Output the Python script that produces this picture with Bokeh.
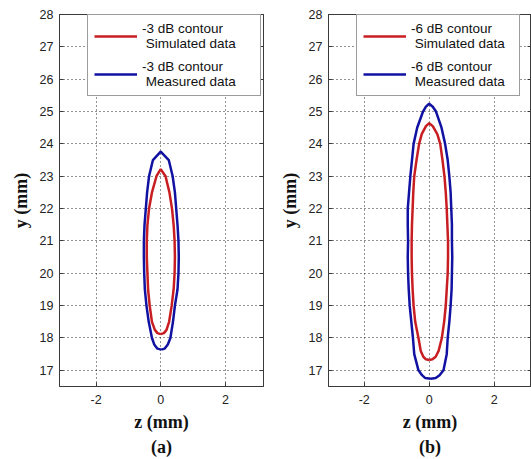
from bokeh.plotting import figure
from bokeh.layouts import row
from bokeh.models import Legend, LegendItem, LinearAxis, Title, Range1d, FixedTicker
from bokeh.embed import file_html
from bokeh.resources import INLINE

# ---------------- data ----------------
x_ticks = [-2, 0, 2]
x_tick_labels = ["-2", "0", "2"]
y_ticks = [17, 18, 19, 20, 21, 22, 23, 24, 25, 26, 27, 28]
y_tick_labels = ["17", "18", "19", "20", "21", "22", "23", "24", "25", "26", "27", "28"]

# (a) -3 dB contour, simulated (red)
a_sim_y = [18.12, 18.15, 18.25, 18.5, 19.0, 19.5, 20.0, 20.5, 21.0, 21.5, 22.0, 22.5, 23.0, 23.22]
a_sim_zl = [0.0, -0.10, -0.18, -0.27, -0.34, -0.39, -0.41, -0.43, -0.43, -0.41, -0.36, -0.27, -0.13, 0.0]
a_sim_zr = [0.0, 0.10, 0.18, 0.26, 0.34, 0.40, 0.43, 0.44, 0.43, 0.40, 0.35, 0.27, 0.15, 0.0]

# (a) -3 dB contour, measured (blue)
a_mea_y = [17.64, 17.67, 17.8, 18.0, 18.5, 19.0, 19.5, 20.0, 20.5, 21.0, 21.5, 22.0, 22.5, 23.0, 23.5, 23.76]
a_mea_zl = [0.02, -0.10, -0.20, -0.27, -0.37, -0.44, -0.49, -0.51, -0.52, -0.52, -0.50, -0.46, -0.42, -0.36, -0.24, 0.0]
a_mea_zr = [0.02, 0.12, 0.22, 0.30, 0.38, 0.44, 0.52, 0.55, 0.56, 0.55, 0.52, 0.48, 0.44, 0.37, 0.25, 0.0]

# (b) -6 dB contour, simulated (red)
b_sim_y = [17.32, 17.34, 17.42, 17.6, 18.0, 18.5, 19.0, 19.5, 20.0, 20.5, 21.0, 21.5, 22.0, 22.5, 23.0, 23.5, 24.0, 24.3, 24.55, 24.64]
b_sim_zl = [0.0, -0.10, -0.18, -0.26, -0.33, -0.43, -0.48, -0.51, -0.53, -0.54, -0.54, -0.53, -0.51, -0.49, -0.46, -0.39, -0.31, -0.23, -0.10, 0.0]
b_sim_zr = [0.0, 0.10, 0.20, 0.29, 0.39, 0.46, 0.51, 0.54, 0.57, 0.58, 0.58, 0.56, 0.54, 0.51, 0.47, 0.41, 0.34, 0.25, 0.11, 0.0]

# (b) -6 dB contour, measured (blue)
b_mea_y = [16.74, 16.76, 16.85, 17.0, 17.5, 18.0, 18.5, 19.0, 19.5, 20.0, 20.5, 21.0, 21.5, 22.0, 22.5, 23.0, 23.5, 24.0, 24.5, 25.0, 25.15, 25.24]
b_mea_zl = [0.05, -0.12, -0.22, -0.33, -0.46, -0.50, -0.55, -0.60, -0.63, -0.65, -0.66, -0.65, -0.66, -0.66, -0.62, -0.58, -0.53, -0.48, -0.37, -0.19, -0.10, 0.0]
b_mea_zr = [0.05, 0.20, 0.32, 0.44, 0.54, 0.57, 0.62, 0.66, 0.69, 0.70, 0.71, 0.70, 0.70, 0.68, 0.66, 0.62, 0.57, 0.49, 0.38, 0.21, 0.11, 0.0]

labels_a = ["-3 dB contour\n Simulated data", "-3 dB contour\n Measured data"]
labels_b = ["-6 dB contour\n Simulated data", "-6 dB contour\n Measured data"]
panel_tags = ["(a)", "(b)"]

RED = "#C81E22"
BLUE = "#1212A2"
SANS = "Liberation Sans"
SERIF = "Liberation Serif"
FRAME = "#3a3a3a"


def closed(zl, zr, y):
    return list(zl) + list(zr)[::-1], list(y) + list(y)[::-1]


def style_axis(ax, ticks, tick_labels, show_labels=True):
    ax.ticker = FixedTicker(ticks=ticks)
    ax.major_tick_in = 4
    ax.major_tick_out = 0
    ax.minor_tick_in = 0
    ax.minor_tick_out = 0
    ax.axis_line_color = FRAME
    ax.major_tick_line_color = FRAME
    if show_labels:
        ax.major_label_overrides = {t: s for t, s in zip(ticks, tick_labels)}
        ax.major_label_text_font = SANS
        ax.major_label_text_font_size = "12.5px"
        ax.major_label_text_color = "#222222"
    else:
        ax.major_label_text_font_size = "1px"
        ax.major_label_text_color = None
        ax.major_label_standoff = 0


def make_panel(sim, mea, labels, tag, xr, width, mb_left, mb_right, leg_x, label_width):
    p = figure(width=width, height=459, x_range=Range1d(*xr), y_range=Range1d(16.5, 28),
               output_backend="svg", toolbar_location=None,
               min_border_left=mb_left, min_border_right=mb_right,
               min_border_top=14, min_border_bottom=73)
    p.outline_line_color = FRAME
    p.outline_line_width = 1
    p.background_fill_color = "white"
    p.border_fill_color = "white"

    style_axis(p.xaxis[0], x_ticks, x_tick_labels)
    style_axis(p.yaxis[0], y_ticks, y_tick_labels)
    p.xaxis.major_label_standoff = 8
    p.yaxis.major_label_standoff = 6
    p.xaxis.axis_label = "z (mm)"
    p.yaxis.axis_label = "y (mm)"
    for ax in (p.xaxis[0], p.yaxis[0]):
        ax.axis_label_text_font = SERIF
        ax.axis_label_text_font_style = "bold"
        ax.axis_label_text_font_size = "18px"
        ax.axis_label_text_color = "#111111"
    p.xaxis.axis_label_standoff = 5
    p.yaxis.axis_label_standoff = 6

    top = LinearAxis()
    style_axis(top, x_ticks, x_tick_labels, show_labels=False)
    p.add_layout(top, "above")
    right = LinearAxis()
    style_axis(right, y_ticks, y_tick_labels, show_labels=False)
    p.add_layout(right, "right")

    for g in (p.xgrid[0], p.ygrid[0]):
        g.grid_line_color = "#000000"
        g.grid_line_alpha = 0.85
        g.grid_line_dash = "1 3"
        g.grid_line_width = 1
    p.xgrid.ticker = FixedTicker(ticks=x_ticks)
    p.ygrid.ticker = FixedTicker(ticks=y_ticks)

    xs, ys = closed(*sim)
    r1 = p.line(xs, ys, line_color=RED, line_width=2.5)
    xs, ys = closed(*mea)
    r2 = p.line(xs, ys, line_color=BLUE, line_width=2.5)

    leg = Legend(items=[LegendItem(label=labels[0], renderers=[r1]),
                        LegendItem(label=labels[1], renderers=[r2])],
                 location=(leg_x, 290))
    leg.label_text_font = SANS
    leg.label_text_font_size = "13.5px"
    leg.label_text_color = "#111111"
    leg.label_text_line_height = 1.3
    leg.label_width = label_width
    leg.glyph_width = 43
    leg.label_standoff = 5
    leg.padding = 6
    leg.spacing = 8
    leg.margin = 0
    leg.border_line_color = FRAME
    leg.border_line_width = 1
    leg.background_fill_color = "white"
    leg.background_fill_alpha = 1
    p.add_layout(leg, "center")

    p.add_layout(Title(text=tag, align="center", text_font=SERIF, text_font_style="bold",
                       text_font_size="18px", text_color="#111111", standoff=0), "below")
    return p


pa = make_panel((a_sim_zl, a_sim_zr, a_sim_y), (a_mea_zl, a_mea_zr, a_mea_y), labels_a,
                panel_tags[0], (-3.13, 3.18), 265, 59, 2, 28, 112)
pb = make_panel((b_sim_zl, b_sim_zr, b_sim_y), (b_mea_zl, b_mea_zr, b_mea_y), labels_b,
                panel_tags[1], (-3.1, 3.15), 266, 63, 0, 28, 102)

layout = row(pa, pb, spacing=0)
open("out.html", "w").write(file_html(layout, INLINE))
